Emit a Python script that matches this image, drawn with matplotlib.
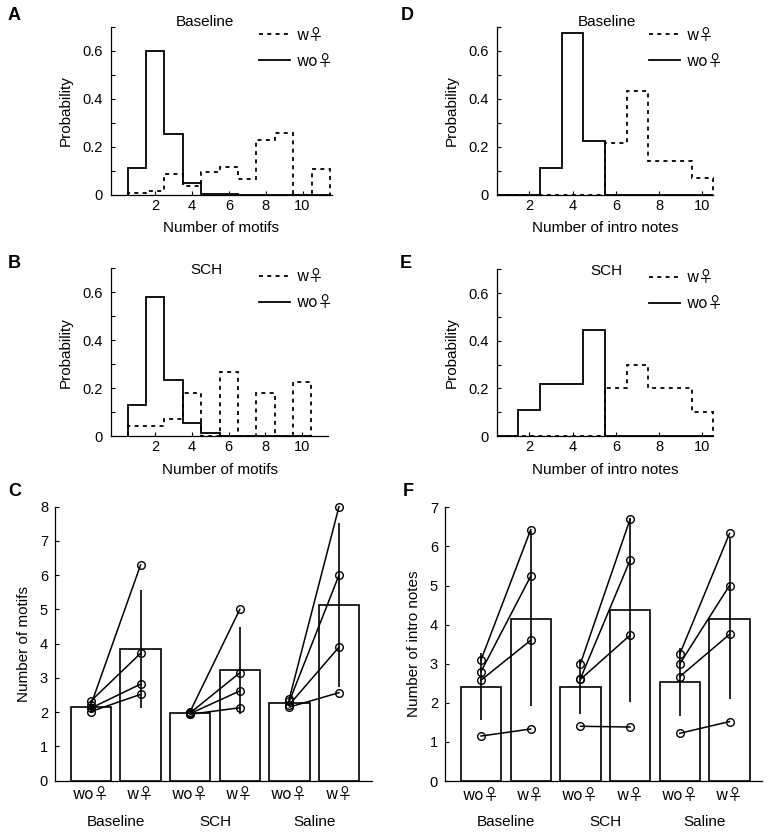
import matplotlib.pyplot as plt
import matplotlib.transforms as mtransforms
from matplotlib.ticker import MultipleLocator
import numpy as np

plt.rcParams['font.family'] = ['Liberation Sans', 'DejaVu Sans']
plt.rcParams['font.size'] = 11
SYM_FONT = ['Noto Sans CJK JP', 'DejaVu Sans']

W, H = 773, 838

# ---- histogram data (probability per bin) ----
motif_bins_a = [1, 2, 3, 4, 5, 6, 7, 8, 9, 10, 11]
base_motif_wo = [0.112, 0.597, 0.255, 0.05, 0.006, 0.003, 0, 0, 0, 0, 0]
base_motif_w = [0.01, 0.018, 0.088, 0.038, 0.095, 0.116, 0.066, 0.23, 0.258, 0, 0.108]

motif_bins_b = [1, 2, 3, 4, 5, 6, 7, 8, 9, 10]
sch_motif_wo = [0.129, 0.579, 0.234, 0.055, 0.012, 0, 0, 0, 0, 0]
sch_motif_w = [0.043, 0.043, 0.069, 0.179, 0, 0.269, 0, 0.179, 0, 0.226]

intro_bins = [1, 2, 3, 4, 5, 6, 7, 8, 9, 10]
base_intro_wo = [0, 0, 0.112, 0.672, 0.223, 0, 0, 0, 0, 0]
base_intro_w = [0, 0, 0, 0, 0, 0.216, 0.432, 0.143, 0.143, 0.07]
sch_intro_wo = [0, 0.109, 0.219, 0.219, 0.444, 0, 0, 0, 0, 0]
sch_intro_w = [0, 0, 0, 0, 0, 0.2, 0.3, 0.2, 0.2, 0.1]

# ---- per-bird values, bar means and SDs ----
groups = ['Baseline', 'SCH', 'Saline']
cond_labels = ['wo\u2640', 'w\u2640']

motif_wo_pts = [[2.33, 2.22, 2.12, 2.02], [2.02, 1.98, 1.96, 1.94], [2.4, 2.32, 2.22, 2.15]]
motif_w_pts = [[3.72, 6.3, 2.82, 2.52], [5.0, 3.15, 2.62, 2.13], [8.0, 6.0, 3.9, 2.57]]
motif_wo_mean = [2.16, 1.99, 2.28]
motif_w_mean = [3.85, 3.23, 5.12]
motif_wo_sd = [0.14, 0.04, 0.11]
motif_w_sd = [1.73, 1.27, 2.39]

intro_wo_pts = [[3.1, 2.8, 2.58, 1.15], [3.0, 2.62, 2.6, 1.4], [3.25, 3.0, 2.67, 1.22]]
intro_w_pts = [[6.43, 5.24, 3.6, 1.33], [6.7, 5.65, 3.73, 1.38], [6.33, 5.0, 3.75, 1.52]]
intro_wo_mean = [2.41, 2.41, 2.53]
intro_w_mean = [4.15, 4.37, 4.15]
intro_wo_sd = [0.86, 0.7, 0.88]
intro_w_sd = [2.24, 2.35, 2.06]


def rect(l, r, t, b):
    return [l / W, 1 - b / H, (r - l) / W, (b - t) / H]


def style(ax):
    for s in ['top', 'right']:
        ax.spines[s].set_visible(False)
    for s in ['left', 'bottom']:
        ax.spines[s].set_linewidth(0.9)
    ax.tick_params(which='both', direction='in', length=3, width=0.8, labelsize=10.5)


def hist_panel(ax, bins, wo, w, title, xlabel, xlim, title_xy, leg_x):
    edges = np.append(np.array(bins) - 0.5, bins[-1] + 0.5)
    ax.stairs(w, edges, baseline=0, color='k', lw=1.3, linestyle=(0, (2.2, 2.4)), clip_on=False)
    ax.stairs(wo, edges, baseline=0, color='k', lw=1.3, clip_on=False)
    ax.set_xlim(*xlim)
    ax.set_ylim(0, 0.7)
    ax.set_xticks([2, 4, 6, 8, 10])
    ax.set_yticks([0, 0.2, 0.4, 0.6])
    ax.set_yticklabels(['0', '0.2', '0.4', '0.6'])
    ax.yaxis.set_minor_locator(MultipleLocator(0.1))
    style(ax)
    ax.tick_params(axis='y', pad=6)
    ax.tick_params(axis='x', pad=3)
    ax.set_ylabel('Probability', labelpad=7)
    ax.set_xlabel(xlabel, labelpad=6)
    ax.text(title_xy[0], title_xy[1], title, transform=ax.transAxes, ha='center', va='center')
    h1, = ax.plot([], [], color='k', lw=1.3, linestyle=(0, (2.2, 2.4)))
    h2, = ax.plot([], [], color='k', lw=1.3)
    ax.legend([h1, h2], ['w\u2640', 'wo\u2640'], loc='center left',
              bbox_to_anchor=(leg_x, 0.872), frameon=False, borderpad=0,
              borderaxespad=0, handlelength=2.0, handletextpad=0.45, labelspacing=0.6,
              prop={'family': SYM_FONT, 'size': 11})


def bar_panel(ax, wo_pts, w_pts, wo_mean, w_mean, wo_sd, w_sd, ylim, ylabel):
    pos_wo = np.array([1, 3, 5])
    pos_w = pos_wo + 1
    ax.bar(pos_wo, wo_mean, width=0.815, color='white', edgecolor='k', lw=1.2, zorder=1)
    ax.bar(pos_w, w_mean, width=0.815, color='white', edgecolor='k', lw=1.2, zorder=1)
    ax.errorbar(pos_wo, wo_mean, yerr=wo_sd, fmt='none', ecolor='k', elinewidth=1.2, capsize=0, zorder=2)
    ax.errorbar(pos_w, w_mean, yerr=w_sd, fmt='none', ecolor='k', elinewidth=1.2, capsize=0, zorder=2)
    for g in range(3):
        for a, b in zip(wo_pts[g], w_pts[g]):
            ax.plot([pos_wo[g], pos_w[g]], [a, b], color='k', lw=1.1, marker='o',
                    mfc='none', mec='k', mew=1.0, ms=5.5, zorder=3, clip_on=False)
    ax.set_xlim(0.274, 6.66)
    ax.set_ylim(*ylim)
    ax.set_yticks(range(0, ylim[1] + 1))
    ticks = [p for g in range(3) for p in (pos_wo[g], pos_w[g])]
    ax.set_xticks(ticks)
    ax.set_xticklabels(cond_labels * 3)
    for lbl in ax.get_xticklabels():
        lbl.set_family(SYM_FONT)
    style(ax)
    ax.tick_params(axis='x', length=0, pad=4, labelsize=11)
    ax.tick_params(axis='y', pad=5)
    ax.set_ylabel(ylabel, labelpad=6)
    trans = mtransforms.blended_transform_factory(ax.transData, ax.transAxes)
    for g, name in enumerate(groups):
        ax.text(pos_wo[g] + 0.5, -0.15, name, transform=trans, ha='center', va='center')


fig = plt.figure(figsize=(W / 100, H / 100), dpi=100)

axA = fig.add_axes(rect(111, 332, 26.7, 195))
hist_panel(axA, motif_bins_a, base_motif_wo, base_motif_w, 'Baseline', 'Number of motifs',
           (-0.4, 11.6), (0.425, 1.028), 0.67)
axB = fig.add_axes(rect(111, 328, 268.3, 436))
hist_panel(axB, motif_bins_b, sch_motif_wo, sch_motif_w, 'SCH', 'Number of motifs',
           (-0.4, 11.4), (0.438, 0.99), 0.682)
axD = fig.add_axes(rect(496.7, 713.3, 26.7, 195))
hist_panel(axD, intro_bins, base_intro_wo, base_intro_w, 'Baseline', 'Number of intro notes',
           (0.5, 10.5), (0.508, 1.028), 0.705)
axE = fig.add_axes(rect(496.7, 713.3, 269.3, 436))
hist_panel(axE, intro_bins, sch_intro_wo, sch_intro_w, 'SCH', 'Number of intro notes',
           (0.5, 10.5), (0.508, 0.99), 0.705)

axC = fig.add_axes(rect(55, 371.7, 506.7, 780.7))
bar_panel(axC, motif_wo_pts, motif_w_pts, motif_wo_mean, motif_w_mean, motif_wo_sd, motif_w_sd,
          (0, 8), 'Number of motifs')
axF = fig.add_axes(rect(445, 762.3, 507.3, 781))
bar_panel(axF, intro_wo_pts, intro_w_pts, intro_wo_mean, intro_w_mean, intro_wo_sd, intro_w_sd,
          (0, 7), 'Number of intro notes')

for letter, x, y in [('A', 14.5, 16), ('D', 407, 16), ('B', 14, 263), ('E', 406, 263),
                     ('C', 14.5, 491), ('F', 408, 491)]:
    fig.text(x / W, 1 - y / H, letter, fontsize=13, fontweight='bold', ha='center', va='center')

fig.savefig('out.png', dpi=100)
